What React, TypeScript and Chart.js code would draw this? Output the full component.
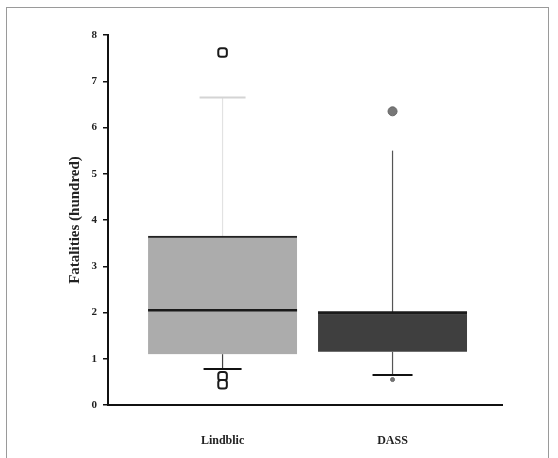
import React, { useEffect, useRef } from "react";
import { Chart, registerables } from "chart.js";

Chart.register(...registerables);

const categories = ["Lindblic", "DASS"];
const q1 = [1.1, 1.15];
const q3 = [3.65, 2.0];
const medians = [2.05, 2.0];
const whiskerLow = [0.78, 0.65];
const whiskerHigh = [6.65, 5.5];
const outliersLindblic = [7.62, 0.62, 0.45];
const outliersDass = [6.35, 0.55];
const yTicks = [0, 1, 2, 3, 4, 5, 6, 7, 8];

const boxColors = ["#acacac", "#3f3f3f"];
const upperWhiskerColors = ["#e2e2e2", "#555555"];
const lowerWhiskerColors = ["#444444", "#555555"];
const upperCapColors = ["#d4d4d4", null];
const upperCapWidths = [46, 0];
const lowerCapWidths = [38, 40];

const boxPlugin = {
  id: "boxParts",
  beforeDatasetsDraw(chart: any) {
    const { ctx, scales } = chart;
    const xs = scales.x;
    const ys = scales.y;
    ctx.save();
    categories.forEach((_, i) => {
      const cx = xs.getPixelForValue(i);
      ctx.strokeStyle = upperWhiskerColors[i];
      ctx.lineWidth = 1.2;
      ctx.beginPath();
      ctx.moveTo(cx, ys.getPixelForValue(q3[i]));
      ctx.lineTo(cx, ys.getPixelForValue(whiskerHigh[i]));
      ctx.stroke();
      if (upperCapColors[i]) {
        ctx.strokeStyle = upperCapColors[i] as string;
        ctx.lineWidth = 2;
        const yy = ys.getPixelForValue(whiskerHigh[i]);
        ctx.beginPath();
        ctx.moveTo(cx - upperCapWidths[i] / 2, yy);
        ctx.lineTo(cx + upperCapWidths[i] / 2, yy);
        ctx.stroke();
      }
      ctx.strokeStyle = lowerWhiskerColors[i];
      ctx.lineWidth = 1.2;
      ctx.beginPath();
      ctx.moveTo(cx, ys.getPixelForValue(q1[i]));
      ctx.lineTo(cx, ys.getPixelForValue(whiskerLow[i]));
      ctx.stroke();
      ctx.strokeStyle = "#111111";
      ctx.lineWidth = 2;
      const yl = ys.getPixelForValue(whiskerLow[i]);
      ctx.beginPath();
      ctx.moveTo(cx - lowerCapWidths[i] / 2, yl);
      ctx.lineTo(cx + lowerCapWidths[i] / 2, yl);
      ctx.stroke();
    });
    ctx.restore();
  },
  afterDatasetsDraw(chart: any) {
    const { ctx, scales } = chart;
    const xs = scales.x;
    const ys = scales.y;
    const meta = chart.getDatasetMeta(0);
    ctx.save();
    categories.forEach((_, i) => {
      const bar = meta.data[i];
      const half = bar.width / 2;
      const cx = xs.getPixelForValue(i);
      const ym = ys.getPixelForValue(medians[i]);
      ctx.strokeStyle = "#1a1a1a";
      ctx.lineWidth = 2.5;
      ctx.beginPath();
      ctx.moveTo(cx - half, ym);
      ctx.lineTo(cx + half, ym);
      ctx.stroke();
    });
    ctx.restore();
  },
};

export default function App() {
  const ref = useRef<HTMLCanvasElement>(null);
  useEffect(() => {
    if (!ref.current) return;
    const chart = new Chart(ref.current, {
      type: "bar",
      data: {
        datasets: [
          {
            type: "bar",
            data: categories.map((_, i) => ({ x: i, y: [q1[i], q3[i]] })) as any,
            backgroundColor: boxColors,
            borderColor: "#222222",
            borderWidth: { top: 2, left: 0, right: 0, bottom: 0 } as any,
            borderSkipped: false,
            barThickness: 149,
            grouped: false,
          } as any,
          {
            type: "scatter",
            data: outliersLindblic.map((v) => ({ x: 0, y: v })),
            pointStyle: "rectRounded",
            pointRadius: 5,
            backgroundColor: "#ffffff",
            borderColor: "#1a1a1a",
            borderWidth: 2,
          } as any,
          {
            type: "scatter",
            data: outliersDass.map((v) => ({ x: 1, y: v })),
            pointStyle: "circle",
            pointRadius: [4.5, 2],
            backgroundColor: "#777777",
            borderColor: "#666666",
            borderWidth: 1,
          } as any,
        ],
      },
      options: {
        animation: false,
        responsive: false,
        maintainAspectRatio: false,
        layout: { padding: { left: 0, top: 35, right: 56, bottom: 0 } },
        plugins: { legend: { display: false }, tooltip: { enabled: false } },
        scales: {
          x: {
            type: "linear",
            min: -0.674,
            max: 1.644,
            offset: false,
            afterBuildTicks: (s: any) => {
              s.ticks = categories.map((_, i) => ({ value: i }));
            },
            afterFit: (s: any) => {
              s.height = 53;
            },
            grid: { drawOnChartArea: false, drawTicks: false, offset: false },
            border: { color: "#111111", width: 2 },
            ticks: {
              padding: 29,
              color: "#222222",
              font: { family: "Liberation Serif", size: 12, weight: "bold" },
              callback: (v: any) => categories[v as number] ?? "",
            },
          },
          y: {
            type: "linear",
            min: 0,
            max: 8,
            afterBuildTicks: (s: any) => {
              s.ticks = yTicks.map((v) => ({ value: v }));
            },
            afterFit: (s: any) => {
              s.width = 108;
            },
            grid: { drawOnChartArea: false, drawTicks: true, tickLength: 5, color: "#111111", lineWidth: 1.5 },
            border: { color: "#111111", width: 2 },
            ticks: {
              padding: 6,
              color: "#222222",
              font: { family: "Liberation Serif", size: 11, weight: "bold" },
            },
            title: {
              display: true,
              text: "Fatalities (hundred)",
              color: "#222222",
              font: { family: "Liberation Serif", size: 15, weight: "bold" },
              padding: { top: 66, bottom: 0 },
            },
          },
        },
      },
      plugins: [boxPlugin],
    });
    return () => chart.destroy();
  }, []);
  return (
    <div style={{ position: "fixed", left: 0, top: 0, width: 558, height: 458, background: "#ffffff", overflow: "hidden" }}>
      <div
        style={{
          position: "absolute",
          left: 6,
          top: 7,
          width: 543,
          height: 470,
          border: "1px solid #9a9a9a",
          boxSizing: "border-box",
        }}
      />
      <canvas ref={ref} width={558} height={458} style={{ position: "absolute", left: 0, top: 0 }} />
    </div>
  );
}
